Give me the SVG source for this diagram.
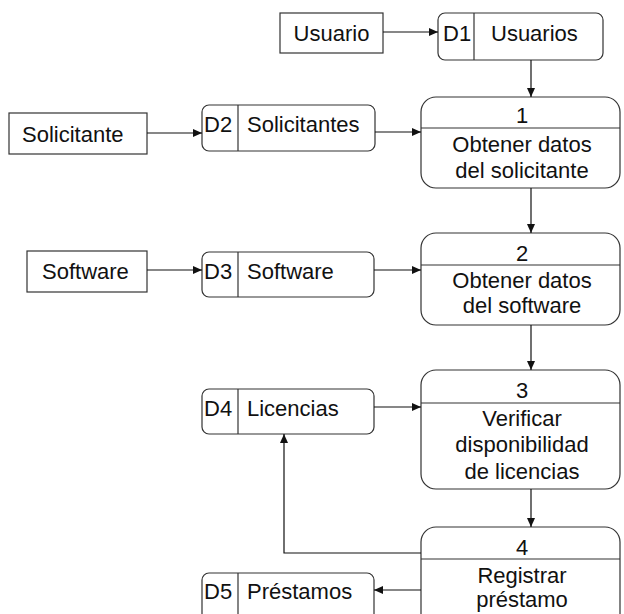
<svg xmlns="http://www.w3.org/2000/svg" width="624" height="614" viewBox="0 0 624 614">
  <defs>
    <marker id="arrow" markerUnits="userSpaceOnUse" markerWidth="10" markerHeight="8" refX="9" refY="4" orient="auto">
      <path d="M0,0 L9,4 L0,8 z" fill="#111"/>
    </marker>
    <style>
      .box { fill: #fff; stroke: #333; stroke-width: 1.2; }
      .div { stroke: #333; stroke-width: 1.2; }
      .txt { font-family: "Liberation Sans", Arial, sans-serif; font-size: 22px; fill: #111; }
      .mid { text-anchor: middle; }
      .conn { fill: none; stroke: #111; stroke-width: 1.2; marker-end: url(#arrow); }
    </style>
  </defs>
  <rect width="624" height="614" fill="#fff"/>

  <!-- External entities -->
  <g id="usuario">
    <rect class="box" x="280" y="13" width="103" height="40"/>
    <text class="txt mid" x="331.5" y="41">Usuario</text>
  </g>
  <g id="solicitante">
    <rect class="box" x="9" y="113" width="138" height="41"/>
    <text class="txt" x="22" y="142">Solicitante</text>
  </g>
  <g id="software">
    <rect class="box" x="27" y="251" width="120" height="41"/>
    <text class="txt" x="42" y="279">Software</text>
  </g>

  <!-- Data stores -->
  <g id="d1">
    <rect class="box" x="438" y="13" width="165" height="47" rx="7"/>
    <line class="div" x1="474" y1="13" x2="474" y2="60"/>
    <text class="txt" x="443" y="41">D1</text>
    <text class="txt" x="491" y="41">Usuarios</text>
  </g>
  <g id="d2">
    <rect class="box" x="202" y="105" width="173" height="46" rx="7"/>
    <line class="div" x1="238" y1="105" x2="238" y2="151"/>
    <text class="txt" x="204" y="132">D2</text>
    <text class="txt" x="247" y="132">Solicitantes</text>
  </g>
  <g id="d3">
    <rect class="box" x="202" y="252" width="172" height="45" rx="7"/>
    <line class="div" x1="238" y1="252" x2="238" y2="297"/>
    <text class="txt" x="204" y="279">D3</text>
    <text class="txt" x="247" y="279">Software</text>
  </g>
  <g id="d4">
    <rect class="box" x="202" y="389" width="172" height="45" rx="7"/>
    <line class="div" x1="238" y1="389" x2="238" y2="434"/>
    <text class="txt" x="204" y="416">D4</text>
    <text class="txt" x="247" y="416">Licencias</text>
  </g>
  <g id="d5">
    <rect class="box" x="202" y="573" width="172" height="50" rx="7"/>
    <line class="div" x1="238" y1="573" x2="238" y2="623"/>
    <text class="txt" x="204" y="599">D5</text>
    <text class="txt" x="247" y="599">Préstamos</text>
  </g>

  <!-- Processes -->
  <g id="p1">
    <rect class="box" x="421" y="97" width="199" height="91" rx="15"/>
    <line class="div" x1="421" y1="128" x2="620" y2="128"/>
    <text class="txt mid" x="522" y="123">1</text>
    <text class="txt mid" x="522" y="152">Obtener datos</text>
    <text class="txt mid" x="522" y="178">del solicitante</text>
  </g>
  <g id="p2">
    <rect class="box" x="421" y="233" width="199" height="92" rx="15"/>
    <line class="div" x1="421" y1="265" x2="620" y2="265"/>
    <text class="txt mid" x="522" y="261">2</text>
    <text class="txt mid" x="522" y="288">Obtener datos</text>
    <text class="txt mid" x="522" y="313">del software</text>
  </g>
  <g id="p3">
    <rect class="box" x="421" y="370" width="199" height="119" rx="15"/>
    <line class="div" x1="421" y1="403" x2="620" y2="403"/>
    <text class="txt mid" x="522" y="398">3</text>
    <text class="txt mid" x="522" y="426">Verificar</text>
    <text class="txt mid" x="522" y="452">disponibilidad</text>
    <text class="txt mid" x="522" y="479">de licencias</text>
  </g>
  <g id="p4">
    <rect class="box" x="421" y="527" width="199" height="110" rx="15"/>
    <line class="div" x1="421" y1="559" x2="620" y2="559"/>
    <text class="txt mid" x="522" y="555">4</text>
    <text class="txt mid" x="522" y="583">Registrar</text>
    <text class="txt mid" x="522" y="607">préstamo</text>
  </g>

  <!-- Data flows -->
  <g id="connectors">
    <path class="conn" d="M383,32 L438,32"/>
    <path class="conn" d="M147,133 L202,133"/>
    <path class="conn" d="M147,270 L202,270"/>
    <path class="conn" d="M531,60 L531,97"/>
    <path class="conn" d="M375,132 L421,132"/>
    <path class="conn" d="M531,188 L531,233"/>
    <path class="conn" d="M374,270 L421,270"/>
    <path class="conn" d="M531,325 L531,370"/>
    <path class="conn" d="M374,407 L421,407"/>
    <path class="conn" d="M531,489 L531,527"/>
    <path class="conn" d="M421,553 L284,553 L284,434"/>
    <path class="conn" d="M421,590 L374,590"/>
  </g>
</svg>
